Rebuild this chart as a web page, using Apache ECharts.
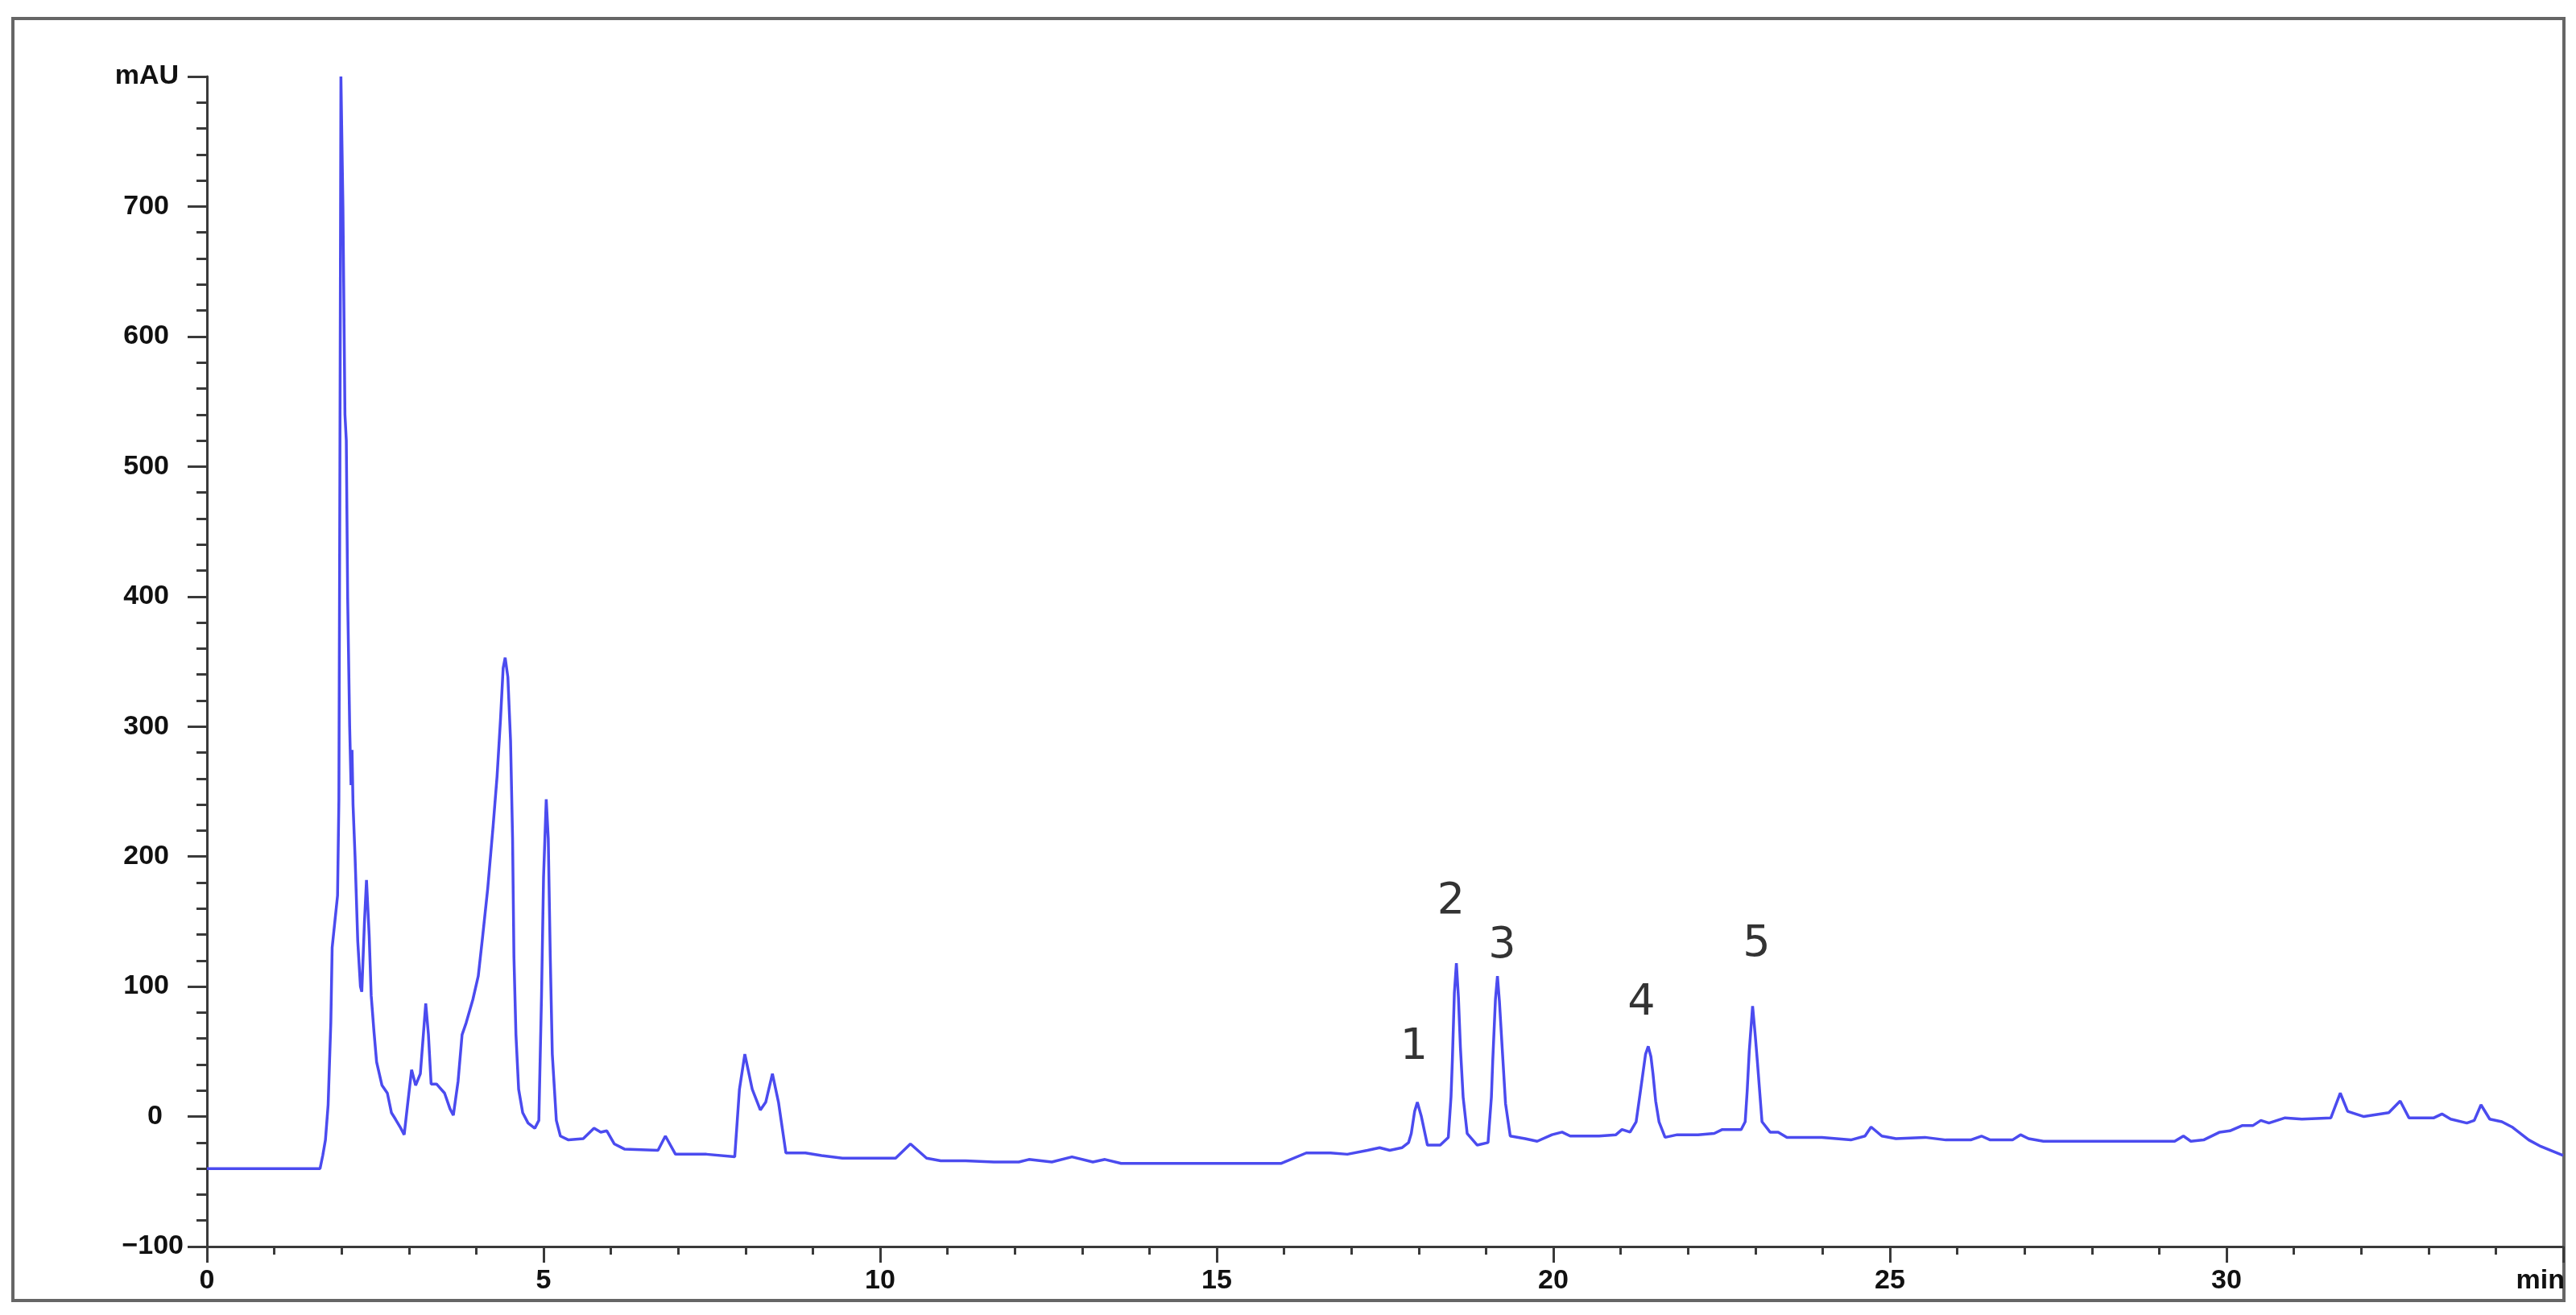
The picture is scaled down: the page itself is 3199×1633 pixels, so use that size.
<!DOCTYPE html>
<html>
<head>
<meta charset="utf-8">
<title>Chromatogram</title>
<script src="https://cdn.jsdelivr.net/npm/echarts@6/dist/echarts.min.js"></script>
<style>
  html, body { margin: 0; padding: 0; background: #fff; }
  #chart { width: 3199px; height: 1633px; }
</style>
</head>
<body>
<div id="chart"></div>
<script>
// retention time (min) and detector signal (mAU)
const times = [
    0, 1.68, 1.72, 1.76, 1.80, 1.84, 1.86, 1.90, 1.94, 1.96, 1.975, 1.99, 2.0,
    2.02, 2.05, 2.07, 2.09, 2.12, 2.14, 2.155, 2.17, 2.20, 2.24, 2.28, 2.30, 2.34, 2.37,
    2.41, 2.44, 2.48, 2.52, 2.60, 2.68, 2.74, 2.80, 2.88, 2.93, 2.98, 3.04, 3.10,
    3.17, 3.25, 3.29, 3.33, 3.41, 3.53, 3.61, 3.66, 3.73, 3.79, 3.85, 3.95, 4.03,
    4.09, 4.17, 4.25, 4.31, 4.36, 4.40, 4.43, 4.47, 4.51, 4.54, 4.56, 4.59, 4.63,
    4.69, 4.77, 4.87, 4.93, 4.97, 5.00, 5.04, 5.07, 5.10, 5.13, 5.19, 5.25, 5.37,
    5.59, 5.75, 5.85, 5.94, 6.05, 6.20, 6.70, 6.81, 6.96, 7.42, 7.84, 7.91, 7.99,
    8.10, 8.22, 8.30, 8.40, 8.49, 8.60, 8.89, 9.13, 9.44, 10.23, 10.45, 10.69,
    10.90, 11.27, 11.69, 12.06, 12.21, 12.55, 12.85, 13.16, 13.34, 13.58, 13.89,
    15.96, 16.33, 16.69, 16.94, 17.24, 17.42, 17.57, 17.75, 17.85, 17.89, 17.94,
    17.98, 18.04, 18.13, 18.32, 18.44, 18.48, 18.50, 18.53, 18.56, 18.59, 18.62,
    18.66, 18.72, 18.87, 19.03, 19.08, 19.10, 19.14, 19.17, 19.20, 19.24, 19.29,
    19.36, 19.58, 19.76, 19.98, 20.13, 20.25, 20.68, 20.93, 21.02, 21.14, 21.23,
    21.29, 21.33, 21.37, 21.41, 21.45, 21.48, 21.52, 21.57, 21.66, 21.84, 22.15,
    22.39, 22.51, 22.79, 22.85, 22.88, 22.91, 22.96, 23.00, 23.03, 23.10, 23.22,
    23.34, 23.47, 23.99, 24.42, 24.63, 24.72, 24.88, 25.09, 25.52, 25.83, 26.20,
    26.36, 26.49, 26.82, 26.94, 27.06, 27.28, 28.07, 29.23, 29.36, 29.47, 29.66,
    29.90, 30.05, 30.23, 30.39, 30.51, 30.63, 30.87, 31.12, 31.55, 31.69, 31.80,
    32.04, 32.41, 32.58, 32.71, 33.08, 33.20, 33.33, 33.57, 33.68, 33.78, 33.91,
    34.09, 34.24, 34.49, 34.67, 35.0
];
const signal = [
    -40, -40, -30, -18, 9, 72, 130, 150, 170, 244, 500, 800, 800,
    700, 540, 520, 400, 300, 255, 282, 240, 200, 135, 100, 96, 150, 182,
    139, 93, 66, 42, 24, 18, 3, -2, -9, -14, 9, 36, 24,
    33, 87, 63, 25, 25, 18, 6, 1, 27, 63, 72, 90, 108,
    136, 175, 223, 262, 305, 345, 353, 338, 289, 214, 123, 63, 21,
    3, -5, -9, -3, 93, 184, 244, 214, 123, 48, -3, -15, -18,
    -17, -9, -12, -11, -21, -25, -26, -15, -29, -29, -31, 21, 48,
    21, 5, 11, 33, 11, -28, -28, -30, -32, -32, -21, -32,
    -34, -34, -35, -35, -33, -35, -31, -35, -33, -36, -36,
    -36, -28, -28, -29, -26, -24, -26, -24, -20, -13, 4,
    11, 0, -22, -22, -16, 15, 43, 95, 118, 92, 53,
    15, -13, -22, -20, 15, 43, 90, 108, 88, 53, 10,
    -15, -17, -19, -14, -12, -15, -15, -14, -10, -12, -4,
    18, 33, 48, 54, 46, 33, 12, -4, -16, -14, -14,
    -13, -10, -10, -4, 20, 50, 85, 62, 43, -4, -12,
    -12, -16, -16, -18, -15, -8, -15, -17, -16, -18, -18,
    -15, -18, -18, -14, -17, -19, -19, -19, -15, -19, -18,
    -12, -11, -7, -7, -3, -5, -1, -2, -1, 18, 4,
    0, 3, 12, -1, -1, 2, -2, -5, -3, 9, -2,
    -4, -8, -18, -23, -30
];

// numbered peak annotations
const peakNames = ['1', '2', '3', '4', '5'];
const peakTimes = [17.93, 18.48, 19.24, 21.31, 23.02];
const peakLabelY = [53, 165, 131, 87, 132];

const xTicks = { min: 0, max: 35, step: 5 };
const yTicks = { min: -100, max: 800, step: 100 };

const trace = times.map((t, i) => [t, signal[i]]);
const peaks = peakNames.map((n, i) => ({ name: n, value: [peakTimes[i], peakLabelY[i]] }));

const axisColor = '#3a3a3a';
const tickFont = { fontFamily: 'Liberation Sans', fontWeight: 'bold', fontSize: 34, color: '#111' };

const chart = echarts.init(document.getElementById('chart'));
chart.setOption({
    animation: false,
    backgroundColor: '#fff',
    grid: { left: 257, right: 16, top: 95, bottom: 85 },
    graphic: [{
        type: 'rect',
        shape: { x: 16, y: 23, width: 3168, height: 1592 },
        style: { fill: 'none', stroke: '#666', lineWidth: 4 },
        z: 0
    }],
    xAxis: {
        type: 'value',
        min: xTicks.min,
        max: xTicks.max,
        interval: xTicks.step,
        name: 'min',
        nameLocation: 'end',
        nameGap: 2,
        nameTextStyle: Object.assign({}, tickFont, { align: 'right', verticalAlign: 'top', padding: [26, 0, 0, 0] }),
        axisLine: { onZero: false, lineStyle: { color: axisColor, width: 3 } },
        axisTick: { length: 20, lineStyle: { color: axisColor, width: 3 } },
        minorTick: { show: true, splitNumber: 5, length: 10, lineStyle: { color: axisColor, width: 3 } },
        splitLine: { show: false },
        axisLabel: Object.assign({}, tickFont, {
            margin: 26,
            formatter: v => (v === xTicks.max ? '' : String(v))
        })
    },
    yAxis: {
        type: 'value',
        min: yTicks.min,
        max: yTicks.max,
        interval: yTicks.step,
        axisLine: { onZero: false, lineStyle: { color: axisColor, width: 3 } },
        axisTick: { length: 24, lineStyle: { color: axisColor, width: 3 } },
        minorTick: { show: true, splitNumber: 5, length: 13, lineStyle: { color: axisColor, width: 3 } },
        splitLine: { show: false },
        axisLabel: {
            margin: 29,
            formatter: v => {
                if (v === yTicks.max) return '{u|mAU}';
                if (v === yTicks.min) return '{n|\u2212' + Math.abs(v) + '}';
                if (v === 0) return '{z|0}';
                return '{d|' + v + '}';
            },
            rich: {
                u: Object.assign({}, tickFont, { padding: [0, 6, 0, 0] }),
                n: Object.assign({}, tickFont, { padding: [0, 0, 0, 0] }),
                z: Object.assign({}, tickFont, { padding: [0, 26, 0, 0] }),
                d: Object.assign({}, tickFont, { padding: [0, 18, 0, 0] })
            }
        }
    },
    series: [
        {
            type: 'line',
            data: trace,
            showSymbol: false,
            symbol: 'none',
            lineStyle: { color: '#4b4bef', width: 3.5 },
            z: 3
        },
        {
            type: 'scatter',
            data: peaks,
            symbolSize: 0,
            label: {
                show: true,
                position: 'inside',
                formatter: '{b}',
                fontFamily: 'DejaVu Sans',
                fontSize: 54,
                color: '#000'
            },
            z: 4
        }
    ]
});
</script>
</body>
</html>
